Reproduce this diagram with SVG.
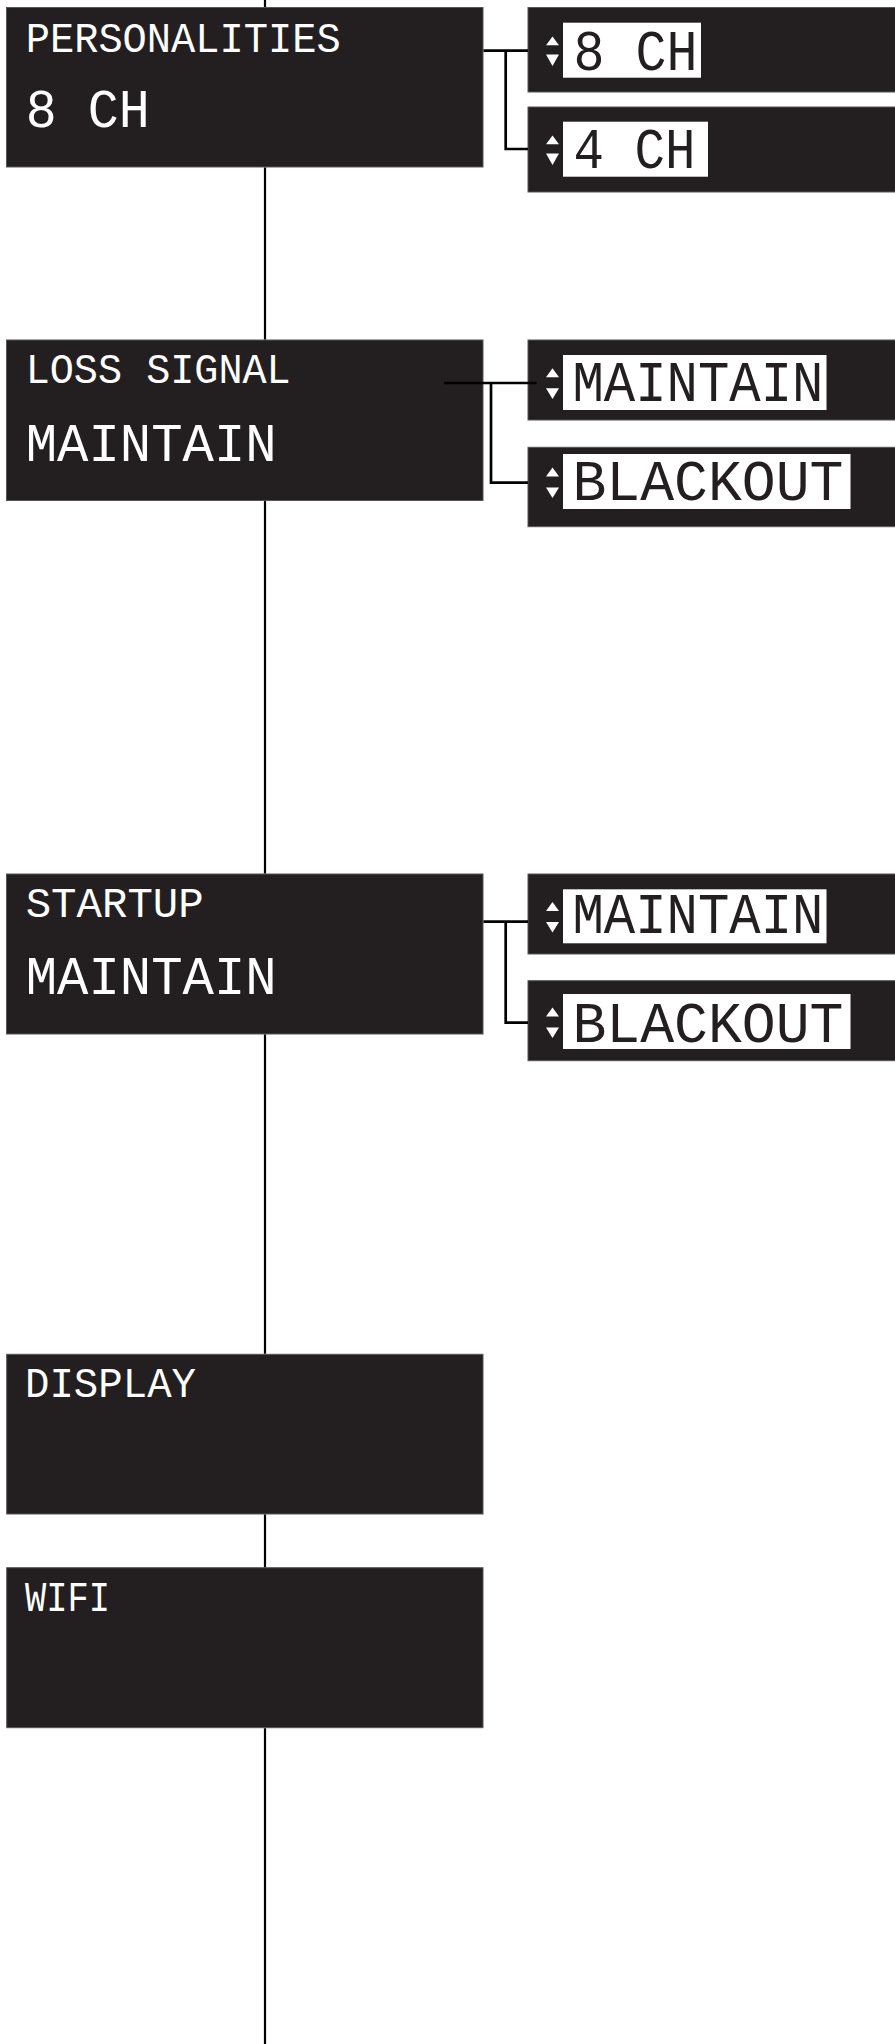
<svg xmlns="http://www.w3.org/2000/svg" width="895" height="2044" viewBox="0 0 895 2044">
<style>
.box{fill:#231f20;stroke:#555;stroke-width:1}
.win{fill:#fff}
.conn{fill:none;stroke:#000;stroke-width:2.7}
.spine{stroke:#000;stroke-width:2.2}
.t{font-family:"Liberation Mono","DejaVu Sans Mono",monospace;fill:#fff}
.title{font-size:42px}
.val{font-size:53px}
.opt{font-family:"Liberation Mono","DejaVu Sans Mono",monospace;font-size:58px;fill:#231f20}
.arr{fill:#fff}
</style>
<rect width="895" height="2044" fill="#fff"/>
<g id="personalities">
<rect class="box" x="6.5" y="7.5" width="476.5" height="159.5"/>
<text class="t title" x="25.7" y="51.7" textLength="315" lengthAdjust="spacingAndGlyphs">PERSONALITIES</text>
<text class="t val" x="25.7" y="126.7" textLength="124" lengthAdjust="spacingAndGlyphs">8 CH</text>
</g>
<g id="opt-8ch">
<rect class="box" x="528" y="7.5" width="368" height="84.5"/>
<rect class="win" x="563" y="22.7" width="138" height="55"/>
<polygon class="arr" points="546,45.3 559,45.3 552.5,36.5"/>
<polygon class="arr" points="546,54.5 559,54.5 552.5,66"/>
<text class="opt" x="573.6" y="70" textLength="124" lengthAdjust="spacingAndGlyphs">8 CH</text>
</g>
<g id="opt-4ch">
<rect class="box" x="528" y="107" width="368" height="85"/>
<rect class="win" x="563" y="121.7" width="145" height="55"/>
<polygon class="arr" points="546,144.3 559,144.3 552.5,135.5"/>
<polygon class="arr" points="546,153.5 559,153.5 552.5,165"/>
<text class="opt" x="573.6" y="168.3" textLength="122" lengthAdjust="spacingAndGlyphs">4 CH</text>
</g>
<g id="loss-signal">
<rect class="box" x="6.5" y="340" width="476.5" height="160.5"/>
<text class="t title" x="25.7" y="383.3" textLength="265" lengthAdjust="spacingAndGlyphs">LOSS SIGNAL</text>
<text class="t val" x="25.7" y="460.7" textLength="251" lengthAdjust="spacingAndGlyphs">MAINTAIN</text>
</g>
<g id="loss-maintain">
<rect class="box" x="528" y="340" width="368" height="80"/>
<rect class="win" x="563" y="355" width="263.5" height="55"/>
<polygon class="arr" points="546,377.3 559,377.3 552.5,368.3"/>
<polygon class="arr" points="546,388.3 559,388.3 552.5,399"/>
<text class="opt" x="572.5" y="400.7" textLength="251" lengthAdjust="spacingAndGlyphs">MAINTAIN</text>
</g>
<g id="loss-blackout">
<rect class="box" x="528" y="447.3" width="368" height="79.4"/>
<rect class="win" x="563" y="454" width="287.5" height="55"/>
<polygon class="arr" points="546,476.5 559,476.5 552.5,467.5"/>
<polygon class="arr" points="546,487.5 559,487.5 552.5,498"/>
<text class="opt" x="572.5" y="500" textLength="271" lengthAdjust="spacingAndGlyphs">BLACKOUT</text>
</g>
<g id="startup">
<rect class="box" x="6.5" y="874" width="476.5" height="160"/>
<text class="t title" x="25.7" y="917.3" textLength="178" lengthAdjust="spacingAndGlyphs">STARTUP</text>
<text class="t val" x="25.7" y="994.3" textLength="251" lengthAdjust="spacingAndGlyphs">MAINTAIN</text>
</g>
<g id="startup-maintain">
<rect class="box" x="528" y="874" width="368" height="80"/>
<rect class="win" x="563" y="889.3" width="263.5" height="54"/>
<polygon class="arr" points="546,911 559,911 552.5,902"/>
<polygon class="arr" points="546,922 559,922 552.5,932.5"/>
<text class="opt" x="572.5" y="933.3" textLength="251" lengthAdjust="spacingAndGlyphs">MAINTAIN</text>
</g>
<g id="startup-blackout">
<rect class="box" x="528" y="980.7" width="368" height="80"/>
<rect class="win" x="563" y="994" width="287.5" height="55"/>
<polygon class="arr" points="546,1016.5 559,1016.5 552.5,1007.5"/>
<polygon class="arr" points="546,1027.5 559,1027.5 552.5,1038"/>
<text class="opt" x="572.5" y="1041.7" textLength="271" lengthAdjust="spacingAndGlyphs">BLACKOUT</text>
</g>
<g id="display">
<rect class="box" x="6.7" y="1354.3" width="476.3" height="159.7"/>
<text class="t title" x="25" y="1397.3" textLength="171" lengthAdjust="spacingAndGlyphs">DISPLAY</text>
</g>
<g id="wifi">
<rect class="box" x="6.7" y="1567.7" width="476.3" height="160"/>
<text class="t title" x="25" y="1610.7" textLength="85" lengthAdjust="spacingAndGlyphs">WIFI</text>
</g>
<g id="connectors">
<line class="spine" x1="265" y1="0" x2="265" y2="7"/>
<line class="spine" x1="265" y1="167.5" x2="265" y2="339.5"/>
<line class="spine" x1="265" y1="501" x2="265" y2="873.5"/>
<line class="spine" x1="265" y1="1034.5" x2="265" y2="1353.8"/>
<line class="spine" x1="265" y1="1514.5" x2="265" y2="1567.2"/>
<line class="spine" x1="265" y1="1728.2" x2="265" y2="2044"/>
<polyline class="conn" points="483.5,50.7 528,50.7"/>
<polyline class="conn" points="505.7,50.7 505.7,149 528,149"/>
<polyline class="conn" points="444,383 536.5,383"/>
<polyline class="conn" points="491,383 491,482.7 528,482.7"/>
<polyline class="conn" points="483.5,921.7 528,921.7"/>
<polyline class="conn" points="505.7,921.7 505.7,1022.7 528,1022.7"/>
</g>
</svg>
